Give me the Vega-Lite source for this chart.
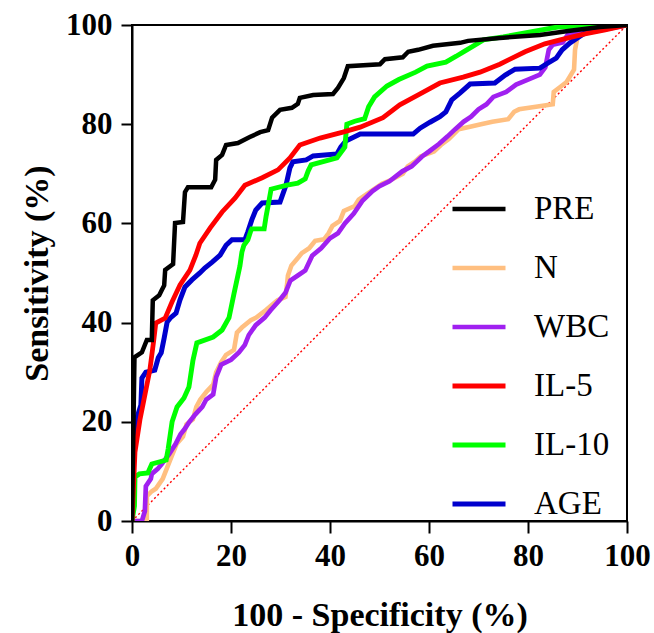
{
  "$schema": "https://vega.github.io/schema/vega-lite/v6.json",
  "width": 495,
  "height": 496,
  "autosize": "none",
  "padding": {"left": 132, "top": 25, "right": 27, "bottom": 112},
  "background": "white",
  "config": {
    "font": "serif",
    "view": {"stroke": "black", "strokeWidth": 2},
    "axis": {
      "grid": false,
      "domainColor": "black",
      "domainWidth": 2,
      "tickColor": "black",
      "tickWidth": 2,
      "labelFont": "serif",
      "labelFontWeight": "bold",
      "labelFontSize": 31,
      "labelColor": "black",
      "labelFlush": false,
      "titleFont": "serif",
      "titleFontWeight": "bold",
      "titleFontSize": 34,
      "titleColor": "black"
    }
  },
  "datasets": {
    "roc": [
      {"s":"N","x":0,"y":0},{"s":"N","x":3,"y":0},{"s":"N","x":3,"y":5},{"s":"N","x":4,"y":6},{"s":"N","x":4.8,"y":6.5},{"s":"N","x":6.2,"y":8.5},{"s":"N","x":7.2,"y":11},{"s":"N","x":8,"y":13},{"s":"N","x":9,"y":15.5},{"s":"N","x":10.3,"y":17},{"s":"N","x":11,"y":19.5},{"s":"N","x":12.3,"y":20.5},{"s":"N","x":13,"y":23},{"s":"N","x":13.8,"y":24.5},{"s":"N","x":15,"y":26},{"s":"N","x":16.4,"y":27.5},{"s":"N","x":17,"y":30},{"s":"N","x":18,"y":32},{"s":"N","x":19,"y":33.5},{"s":"N","x":20.6,"y":34.5},{"s":"N","x":21.2,"y":38},{"s":"N","x":22.2,"y":39},{"s":"N","x":24,"y":40.5},{"s":"N","x":25.1,"y":41},{"s":"N","x":27,"y":42.5},{"s":"N","x":29.4,"y":44.5},{"s":"N","x":31,"y":45.2},{"s":"N","x":31.3,"y":47.5},{"s":"N","x":31.5,"y":49.5},{"s":"N","x":32.2,"y":51.5},{"s":"N","x":33.5,"y":53},{"s":"N","x":34.3,"y":54},{"s":"N","x":35.8,"y":55},{"s":"N","x":37,"y":56.5},{"s":"N","x":38.8,"y":56.8},{"s":"N","x":39.7,"y":58},{"s":"N","x":40.5,"y":59.5},{"s":"N","x":42,"y":60.5},{"s":"N","x":42.8,"y":62.5},{"s":"N","x":45,"y":63.5},{"s":"N","x":45.8,"y":64.8},{"s":"N","x":48.3,"y":66.5},{"s":"N","x":50.5,"y":68},{"s":"N","x":52.4,"y":68.8},{"s":"N","x":54.7,"y":70},{"s":"N","x":55.7,"y":71.5},{"s":"N","x":57.2,"y":72.5},{"s":"N","x":58.3,"y":73.5},{"s":"N","x":61,"y":74.5},{"s":"N","x":62.4,"y":75.8},{"s":"N","x":64,"y":77},{"s":"N","x":65,"y":78},{"s":"N","x":66,"y":79},{"s":"N","x":68.3,"y":79.5},{"s":"N","x":70.5,"y":80},{"s":"N","x":72.8,"y":80.5},{"s":"N","x":76,"y":81},{"s":"N","x":77.2,"y":82.5},{"s":"N","x":78.2,"y":83},{"s":"N","x":81.6,"y":83.5},{"s":"N","x":85,"y":84},{"s":"N","x":85.2,"y":86.5},{"s":"N","x":86.5,"y":87.5},{"s":"N","x":87.8,"y":88.5},{"s":"N","x":89.3,"y":91},{"s":"N","x":89.5,"y":95},{"s":"N","x":90,"y":97.5},{"s":"N","x":92,"y":98.5},{"s":"N","x":94,"y":99.2},{"s":"N","x":100,"y":100},

      {"s":"WBC","x":0,"y":0},{"s":"WBC","x":2,"y":0},{"s":"WBC","x":2.6,"y":2},{"s":"WBC","x":2.8,"y":7},{"s":"WBC","x":3.8,"y":8.5},{"s":"WBC","x":4,"y":9.5},{"s":"WBC","x":5.2,"y":10.5},{"s":"WBC","x":6,"y":11.5},{"s":"WBC","x":7.5,"y":13.5},{"s":"WBC","x":8.8,"y":15.5},{"s":"WBC","x":9.8,"y":17.5},{"s":"WBC","x":10.6,"y":18.5},{"s":"WBC","x":11.6,"y":20},{"s":"WBC","x":12.8,"y":21.5},{"s":"WBC","x":14.2,"y":23},{"s":"WBC","x":15,"y":24.5},{"s":"WBC","x":16.4,"y":25.5},{"s":"WBC","x":17,"y":29},{"s":"WBC","x":18,"y":31.5},{"s":"WBC","x":20,"y":32.5},{"s":"WBC","x":21.6,"y":34},{"s":"WBC","x":22.8,"y":35.5},{"s":"WBC","x":23.6,"y":37.5},{"s":"WBC","x":25,"y":39.5},{"s":"WBC","x":26.8,"y":41},{"s":"WBC","x":28,"y":42.5},{"s":"WBC","x":29.8,"y":44.5},{"s":"WBC","x":31,"y":46},{"s":"WBC","x":32,"y":48.5},{"s":"WBC","x":33.5,"y":49.5},{"s":"WBC","x":35,"y":50.5},{"s":"WBC","x":36.4,"y":53.5},{"s":"WBC","x":38.2,"y":55},{"s":"WBC","x":40,"y":57},{"s":"WBC","x":41.6,"y":58},{"s":"WBC","x":43,"y":60},{"s":"WBC","x":44.8,"y":62},{"s":"WBC","x":46.5,"y":64.5},{"s":"WBC","x":48.6,"y":66.5},{"s":"WBC","x":50,"y":67.5},{"s":"WBC","x":52,"y":68.5},{"s":"WBC","x":54.6,"y":70.5},{"s":"WBC","x":56.5,"y":71.5},{"s":"WBC","x":58.6,"y":73.5},{"s":"WBC","x":60,"y":74.5},{"s":"WBC","x":62,"y":76},{"s":"WBC","x":63.7,"y":77.5},{"s":"WBC","x":65.3,"y":79},{"s":"WBC","x":67,"y":80.5},{"s":"WBC","x":68.5,"y":81.5},{"s":"WBC","x":70,"y":83},{"s":"WBC","x":71.6,"y":84},{"s":"WBC","x":73,"y":85.5},{"s":"WBC","x":75.6,"y":86.5},{"s":"WBC","x":77.6,"y":88},{"s":"WBC","x":80,"y":89},{"s":"WBC","x":82.4,"y":90},{"s":"WBC","x":83.5,"y":91.5},{"s":"WBC","x":84.2,"y":95},{"s":"WBC","x":85,"y":96},{"s":"WBC","x":87,"y":96.5},{"s":"WBC","x":88,"y":98},{"s":"WBC","x":91,"y":99},{"s":"WBC","x":92,"y":99.5},{"s":"WBC","x":100,"y":100},

      {"s":"AGE","x":0,"y":0},{"s":"AGE","x":0.2,"y":13.3},{"s":"AGE","x":0.6,"y":18.3},{"s":"AGE","x":1,"y":20.8},{"s":"AGE","x":1.8,"y":23.4},{"s":"AGE","x":2,"y":28.8},{"s":"AGE","x":2.8,"y":30},{"s":"AGE","x":4.6,"y":30.4},{"s":"AGE","x":5.3,"y":32.9},{"s":"AGE","x":5.9,"y":33.9},{"s":"AGE","x":6.5,"y":36.9},{"s":"AGE","x":7.1,"y":40.1},{"s":"AGE","x":7.7,"y":40.9},{"s":"AGE","x":8.9,"y":41.9},{"s":"AGE","x":9.7,"y":44.6},{"s":"AGE","x":10.7,"y":47.2},{"s":"AGE","x":12.1,"y":48.6},{"s":"AGE","x":13.7,"y":50},{"s":"AGE","x":14.7,"y":51},{"s":"AGE","x":16.2,"y":52.2},{"s":"AGE","x":17.8,"y":53.6},{"s":"AGE","x":19,"y":55.6},{"s":"AGE","x":20.2,"y":56.7},{"s":"AGE","x":22.8,"y":56.7},{"s":"AGE","x":23.4,"y":58.3},{"s":"AGE","x":24.2,"y":60.7},{"s":"AGE","x":25,"y":62.7},{"s":"AGE","x":26.3,"y":64.1},{"s":"AGE","x":29.9,"y":64.3},{"s":"AGE","x":31.1,"y":67.7},{"s":"AGE","x":31.9,"y":71.2},{"s":"AGE","x":32.5,"y":72.4},{"s":"AGE","x":35.2,"y":72.8},{"s":"AGE","x":36.6,"y":73.6},{"s":"AGE","x":41.4,"y":74},{"s":"AGE","x":42.2,"y":75.4},{"s":"AGE","x":43.2,"y":76.6},{"s":"AGE","x":46.1,"y":78},{"s":"AGE","x":56.8,"y":78},{"s":"AGE","x":58.2,"y":79.2},{"s":"AGE","x":60.2,"y":80.4},{"s":"AGE","x":62.2,"y":81.5},{"s":"AGE","x":63.4,"y":82.5},{"s":"AGE","x":64.6,"y":84.9},{"s":"AGE","x":66.3,"y":86.3},{"s":"AGE","x":68.3,"y":88.1},{"s":"AGE","x":73.3,"y":88.3},{"s":"AGE","x":75.4,"y":89.9},{"s":"AGE","x":77.4,"y":91.1},{"s":"AGE","x":82.4,"y":91.3},{"s":"AGE","x":84,"y":92.3},{"s":"AGE","x":85.7,"y":93.3},{"s":"AGE","x":86.9,"y":95},{"s":"AGE","x":88.5,"y":96.4},{"s":"AGE","x":91.5,"y":98.4},{"s":"AGE","x":95.6,"y":99.2},{"s":"AGE","x":100,"y":100},

      {"s":"IL-10","x":0,"y":0},{"s":"IL-10","x":0.5,"y":3},{"s":"IL-10","x":0.6,"y":8.9},{"s":"IL-10","x":1.5,"y":9.5},{"s":"IL-10","x":3.2,"y":9.7},{"s":"IL-10","x":4,"y":11.5},{"s":"IL-10","x":6.9,"y":12.3},{"s":"IL-10","x":7.3,"y":14.5},{"s":"IL-10","x":8.1,"y":20},{"s":"IL-10","x":9.1,"y":23},{"s":"IL-10","x":10.5,"y":24.8},{"s":"IL-10","x":11.5,"y":27},{"s":"IL-10","x":12.3,"y":32.3},{"s":"IL-10","x":13.1,"y":35.9},{"s":"IL-10","x":16.4,"y":37.1},{"s":"IL-10","x":18.2,"y":38.5},{"s":"IL-10","x":19.6,"y":41},{"s":"IL-10","x":20.6,"y":45.8},{"s":"IL-10","x":21.8,"y":51.4},{"s":"IL-10","x":22.2,"y":54.2},{"s":"IL-10","x":22.6,"y":55.6},{"s":"IL-10","x":23.4,"y":56.7},{"s":"IL-10","x":24,"y":58.5},{"s":"IL-10","x":24.2,"y":58.9},{"s":"IL-10","x":26.7,"y":58.9},{"s":"IL-10","x":27.1,"y":61.5},{"s":"IL-10","x":27.7,"y":64.7},{"s":"IL-10","x":28.1,"y":66.9},{"s":"IL-10","x":31.3,"y":67.7},{"s":"IL-10","x":33.5,"y":68.1},{"s":"IL-10","x":35,"y":69},{"s":"IL-10","x":35.6,"y":70.6},{"s":"IL-10","x":36.2,"y":71.8},{"s":"IL-10","x":41.4,"y":73.2},{"s":"IL-10","x":43,"y":75.4},{"s":"IL-10","x":43.4,"y":80},{"s":"IL-10","x":45,"y":80.6},{"s":"IL-10","x":47,"y":81.1},{"s":"IL-10","x":47.8,"y":83.5},{"s":"IL-10","x":49,"y":85.5},{"s":"IL-10","x":51.5,"y":87.7},{"s":"IL-10","x":53.9,"y":89},{"s":"IL-10","x":57.3,"y":90.5},{"s":"IL-10","x":59.6,"y":91.7},{"s":"IL-10","x":63.4,"y":92.5},{"s":"IL-10","x":65.5,"y":93.7},{"s":"IL-10","x":67.3,"y":94.8},{"s":"IL-10","x":69,"y":95.8},{"s":"IL-10","x":71,"y":97},{"s":"IL-10","x":75,"y":97.6},{"s":"IL-10","x":86,"y":99.6},{"s":"IL-10","x":100,"y":100},

      {"s":"IL-5","x":0,"y":0},{"s":"IL-5","x":0.6,"y":13.9},{"s":"IL-5","x":1.6,"y":20.4},{"s":"IL-5","x":2.4,"y":24.4},{"s":"IL-5","x":3.6,"y":30.4},{"s":"IL-5","x":4.4,"y":36.5},{"s":"IL-5","x":4.8,"y":39.9},{"s":"IL-5","x":6.7,"y":40.9},{"s":"IL-5","x":8.1,"y":44.2},{"s":"IL-5","x":9.7,"y":47.6},{"s":"IL-5","x":11.7,"y":50.6},{"s":"IL-5","x":12.9,"y":53.6},{"s":"IL-5","x":13.7,"y":56},{"s":"IL-5","x":15.8,"y":59.1},{"s":"IL-5","x":18.2,"y":62.3},{"s":"IL-5","x":20.8,"y":65.1},{"s":"IL-5","x":22.8,"y":67.7},{"s":"IL-5","x":26.3,"y":69.2},{"s":"IL-5","x":29.5,"y":70.8},{"s":"IL-5","x":31.9,"y":73.2},{"s":"IL-5","x":33.9,"y":75.8},{"s":"IL-5","x":38,"y":77.2},{"s":"IL-5","x":42.6,"y":78.4},{"s":"IL-5","x":46.1,"y":79.4},{"s":"IL-5","x":50.7,"y":81.3},{"s":"IL-5","x":54.1,"y":83.9},{"s":"IL-5","x":58.2,"y":86.1},{"s":"IL-5","x":62.2,"y":88.3},{"s":"IL-5","x":66.9,"y":89.5},{"s":"IL-5","x":70.3,"y":90.5},{"s":"IL-5","x":74.3,"y":92.1},{"s":"IL-5","x":79.4,"y":94.6},{"s":"IL-5","x":83.4,"y":96.2},{"s":"IL-5","x":86.5,"y":97},{"s":"IL-5","x":91.5,"y":98.2},{"s":"IL-5","x":95.6,"y":99},{"s":"IL-5","x":100,"y":100},

      {"s":"PRE","x":0,"y":0},{"s":"PRE","x":0.5,"y":33},{"s":"PRE","x":2,"y":34},{"s":"PRE","x":3,"y":36.5},{"s":"PRE","x":4,"y":36.5},{"s":"PRE","x":4.2,"y":44.5},{"s":"PRE","x":5.5,"y":45.5},{"s":"PRE","x":6,"y":46.5},{"s":"PRE","x":6.5,"y":47.5},{"s":"PRE","x":6.7,"y":50.6},{"s":"PRE","x":8.3,"y":51.8},{"s":"PRE","x":8.7,"y":60.1},{"s":"PRE","x":10.3,"y":60.3},{"s":"PRE","x":10.7,"y":66.3},{"s":"PRE","x":11.3,"y":67.3},{"s":"PRE","x":16,"y":67.3},{"s":"PRE","x":16.8,"y":68.8},{"s":"PRE","x":17,"y":72.8},{"s":"PRE","x":18.2,"y":73.8},{"s":"PRE","x":19,"y":75.8},{"s":"PRE","x":21.4,"y":76.2},{"s":"PRE","x":23.8,"y":77.4},{"s":"PRE","x":25.9,"y":78.4},{"s":"PRE","x":27.5,"y":78.8},{"s":"PRE","x":28.3,"y":81.3},{"s":"PRE","x":29.9,"y":82.9},{"s":"PRE","x":32.3,"y":83.3},{"s":"PRE","x":33.5,"y":84.1},{"s":"PRE","x":33.9,"y":85.3},{"s":"PRE","x":36.6,"y":85.9},{"s":"PRE","x":40.6,"y":86.1},{"s":"PRE","x":41.6,"y":87.3},{"s":"PRE","x":42.8,"y":89.3},{"s":"PRE","x":43.6,"y":91.7},{"s":"PRE","x":50.1,"y":92.1},{"s":"PRE","x":51.1,"y":93.1},{"s":"PRE","x":54.7,"y":93.5},{"s":"PRE","x":55.8,"y":94.6},{"s":"PRE","x":57.8,"y":95},{"s":"PRE","x":60.8,"y":95.8},{"s":"PRE","x":66.3,"y":96.4},{"s":"PRE","x":67.9,"y":96.8},{"s":"PRE","x":74.3,"y":97.4},{"s":"PRE","x":82.4,"y":98},{"s":"PRE","x":88.1,"y":98.8},{"s":"PRE","x":94.5,"y":99.6},{"s":"PRE","x":100,"y":100}
    ],
    "diag": [{"x":0,"y":0},{"x":100,"y":100}]
  },
  "layer": [
    {
      "data": {"name": "diag"},
      "mark": {"type": "line", "color": "#FF0000", "strokeWidth": 1.4, "strokeDash": [2, 2.5], "clip": true},
      "encoding": {
        "x": {"field": "x", "type": "quantitative"},
        "y": {"field": "y", "type": "quantitative"}
      }
    },
    {
      "data": {"name": "roc"},
      "mark": {"type": "line", "clip": true, "strokeJoin": "miter", "strokeCap": "butt"},
      "encoding": {
        "x": {
          "field": "x", "type": "quantitative",
          "scale": {"domain": [0, 100], "nice": false},
          "axis": {"values": [0, 20, 40, 60, 80, 100], "tickSize": 12, "labelPadding": 8, "title": "100 - Specificity (%)", "titleBaseline": "alphabetic", "titleY": 104}
        },
        "y": {
          "field": "y", "type": "quantitative",
          "scale": {"domain": [0, 100], "nice": false},
          "axis": {"values": [0, 20, 40, 60, 80, 100], "tickSize": 11, "labelPadding": 9, "title": "Sensitivity (%)", "titleBaseline": "alphabetic", "titleX": -85, "titleY": 248, "titleAngle": 270}
        },
        "color": {
          "field": "s", "type": "nominal",
          "scale": {"domain": ["PRE", "N", "WBC", "IL-5", "IL-10", "AGE"], "range": ["#000000", "#FFBF80", "#A020F0", "#FF0000", "#00FF00", "#0000CD"]},
          "legend": {
            "title": null,
            "orient": "none",
            "legendX": 318,
            "legendY": 155,
            "symbolType": "stroke",
            "symbolSize": 2809,
            "symbolStrokeWidth": 4.5,
            "labelFont": "serif",
            "labelFontSize": 33,
            "labelColor": "black",
            "labelOffset": 26,
            "rowPadding": 13,
            "labelLimit": 300
          }
        },
        "strokeWidth": {
          "field": "s", "type": "nominal",
          "scale": {"domain": ["PRE", "N", "WBC", "IL-5", "IL-10", "AGE"], "range": [4.5, 5, 5, 4.5, 4, 4]},
          "legend": null
        },
        "order": {"value": null}
      }
    }
  ]
}
